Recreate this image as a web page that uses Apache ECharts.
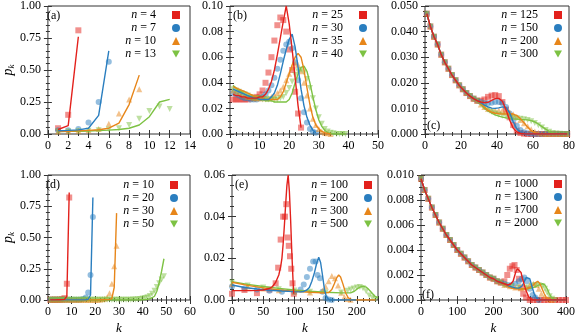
<!DOCTYPE html>
<html>
<head>
<meta charset="utf-8">
<script src="https://cdn.jsdelivr.net/npm/echarts@6/dist/echarts.min.js"></script>
<style>
  html, body { margin: 0; padding: 0; background: #fff; }
  #main { width: 578px; height: 336px; }
</style>
</head>
<body>
<div id="main"></div>
<script>
// ---- data ----
// (a)  k = 1, 2, ...
const aN = [4, 7, 10, 13];
const aL4 = [0.035, 0.065, 0.76];
const aS4 = [0.045, 0.15, 0.81];
const aL7 = [0.025, 0.028, 0.032, 0.045, 0.145, 0.65];
const aS7 = [0.03, 0.03, 0.04, 0.09, 0.25, 0.565];
const aL10 = [0.02, 0.022, 0.025, 0.028, 0.033, 0.045, 0.085, 0.23, 0.46];
const aS10 = [0.02, 0.022, 0.025, 0.03, 0.04, 0.08, 0.16, 0.27, 0.35];
const aL13 = [0.02, 0.021, 0.022, 0.024, 0.027, 0.03, 0.035, 0.045, 0.07, 0.135, 0.25, 0.27];
const aS13 = [0.02, 0.02, 0.022, 0.025, 0.03, 0.035, 0.045, 0.07, 0.12, 0.18, 0.215, 0.195];

// (b)  k = 1, 2, ...
const bN = [25, 30, 35, 40];
const bL25 = [0.031, 0.030, 0.030, 0.029, 0.029, 0.028, 0.028, 0.028, 0.028, 0.029, 0.029, 0.031, 0.035, 0.041, 0.050, 0.062, 0.075, 0.088, 0.100, 0.086, 0.066, 0.044, 0.022, 0.005];
const bS25 = [0.027, 0.027, 0.027, 0.027, 0.027, 0.027, 0.028, 0.028, 0.029, 0.031, 0.034, 0.040, 0.048, 0.060, 0.073, 0.085, 0.091, 0.089, 0.080, 0.066, 0.050, 0.033, 0.016, 0.005];
const bL30 = [0.035, 0.034, 0.033, 0.032, 0.031, 0.030, 0.029, 0.028, 0.028, 0.027, 0.027, 0.027, 0.027, 0.029, 0.032, 0.038, 0.047, 0.057, 0.066, 0.074, 0.078, 0.068, 0.052, 0.035, 0.022, 0.013, 0.007, 0.003, 0.001];
const bS30 = [0.032, 0.031, 0.030, 0.029, 0.028, 0.028, 0.027, 0.027, 0.027, 0.028, 0.029, 0.031, 0.034, 0.038, 0.044, 0.051, 0.058, 0.065, 0.070, 0.072, 0.067, 0.056, 0.042, 0.028, 0.017, 0.009, 0.004, 0.002, 0.001];
const bL35 = [0.037, 0.036, 0.035, 0.034, 0.033, 0.032, 0.031, 0.030, 0.029, 0.028, 0.028, 0.027, 0.027, 0.027, 0.027, 0.027, 0.029, 0.033, 0.040, 0.047, 0.054, 0.060, 0.063, 0.060, 0.050, 0.036, 0.023, 0.013, 0.007, 0.004, 0.002, 0.001, 0.0005, 0];
const bS35 = [0.034, 0.033, 0.032, 0.031, 0.030, 0.029, 0.029, 0.028, 0.028, 0.028, 0.028, 0.028, 0.028, 0.029, 0.030, 0.032, 0.034, 0.037, 0.042, 0.047, 0.052, 0.055, 0.054, 0.049, 0.040, 0.030, 0.020, 0.012, 0.007, 0.004, 0.002, 0.001, 0.0005, 0];
const bL40 = [0.038, 0.036, 0.034, 0.033, 0.031, 0.030, 0.029, 0.028, 0.028, 0.027, 0.027, 0.026, 0.026, 0.026, 0.025, 0.025, 0.025, 0.025, 0.025, 0.027, 0.032, 0.040, 0.047, 0.052, 0.053, 0.049, 0.040, 0.029, 0.019, 0.011, 0.006, 0.003, 0.001, 0.0005, 0, 0, 0, 0, 0];
const bS40 = [0.035, 0.034, 0.033, 0.032, 0.031, 0.030, 0.029, 0.028, 0.028, 0.028, 0.027, 0.027, 0.027, 0.027, 0.027, 0.027, 0.028, 0.029, 0.032, 0.036, 0.041, 0.046, 0.049, 0.050, 0.048, 0.043, 0.036, 0.028, 0.020, 0.013, 0.008, 0.004, 0.002, 0.001, 0.0005, 0, 0, 0, 0];

// (c)  k = 1, 3, 5, ... (shared decay up to k = 29, then each n)
const cN = [125, 150, 200, 300];
const cBase = [0.047, 0.042, 0.038, 0.035, 0.031, 0.028, 0.0255, 0.023, 0.021, 0.019, 0.0175, 0.016, 0.0148, 0.0138, 0.013];
const cL125 = [0.0125, 0.0122, 0.0124, 0.0131, 0.0138, 0.0139, 0.0128, 0.0095, 0.0055, 0.0023, 0.0008, 0.0003, 0.0001, 0, 0, 0, 0, 0, 0, 0, 0, 0, 0, 0, 0];
const cS125 = [0.013, 0.0135, 0.0145, 0.015, 0.0152, 0.0148, 0.0125, 0.0095, 0.0065, 0.0035, 0.0012, 0.0004, 0.0001, 0, 0, 0, 0, 0, 0, 0, 0, 0, 0, 0, 0];
const cL150 = [0.0122, 0.0113, 0.0106, 0.0101, 0.0100, 0.0102, 0.0106, 0.0104, 0.0083, 0.0048, 0.0020, 0.0007, 0.0002, 0, 0, 0, 0, 0, 0, 0, 0, 0, 0, 0, 0];
const cS150 = [0.0125, 0.012, 0.012, 0.0122, 0.0125, 0.0125, 0.012, 0.0105, 0.008, 0.0055, 0.0032, 0.0016, 0.0007, 0.0003, 0.0001, 0, 0, 0, 0, 0, 0, 0, 0, 0, 0];
const cL200 = [0.0118, 0.0105, 0.0092, 0.0085, 0.0081, 0.0079, 0.0078, 0.0078, 0.0079, 0.0078, 0.0072, 0.0060, 0.0044, 0.0027, 0.0013, 0.0005, 0.0002, 0, 0, 0, 0, 0, 0, 0, 0];
const cS200 = [0.0115, 0.0105, 0.0098, 0.0093, 0.0092, 0.0092, 0.0092, 0.0090, 0.0085, 0.0077, 0.0067, 0.0055, 0.0042, 0.0030, 0.0019, 0.0010, 0.0005, 0.0002, 0, 0, 0, 0, 0, 0, 0];
const cL300 = [0.0115, 0.0100, 0.0090, 0.0082, 0.0075, 0.0070, 0.0066, 0.0063, 0.0061, 0.0059, 0.0058, 0.0057, 0.0056, 0.0055, 0.0052, 0.0047, 0.0039, 0.0029, 0.0019, 0.0010, 0.0004, 0.0001, 0, 0, 0];
const cS300 = [0.0118, 0.0105, 0.0095, 0.0087, 0.0080, 0.0075, 0.0071, 0.0068, 0.0066, 0.0064, 0.0062, 0.0060, 0.0058, 0.0055, 0.0050, 0.0043, 0.0034, 0.0025, 0.0016, 0.0009, 0.0004, 0.0002, 0.0001, 0, 0];

// (d)  k = 1, 2, ...
const dN = [10, 20, 30, 50];
const dL10 = [0.001, 0.001, 0.001, 0.002, 0.002, 0.003, 0.005, 0.03, 0.86];
const dS10 = [0.003, 0.003, 0.003, 0.003, 0.004, 0.006, 0.015, 0.13, 0.82];
const dL20 = [0.001, 0.001, 0.001, 0.001, 0.001, 0.001, 0.001, 0.001, 0.001, 0.001, 0.001, 0.001, 0.001, 0.001, 0.001, 0.002, 0.006, 0.04, 0.82];
const dS20 = [0.003, 0.003, 0.003, 0.003, 0.003, 0.003, 0.003, 0.003, 0.003, 0.003, 0.003, 0.003, 0.003, 0.004, 0.008, 0.02, 0.06, 0.20, 0.665];
const dL30 = [0.001, 0.001, 0.001, 0.001, 0.001, 0.001, 0.001, 0.001, 0.001, 0.001, 0.001, 0.001, 0.001, 0.001, 0.001, 0.001, 0.001, 0.001, 0.001, 0.001, 0.001, 0.002, 0.002, 0.003, 0.003, 0.005, 0.012, 0.1, 0.695];
const dS30 = [0.003, 0.003, 0.003, 0.003, 0.003, 0.003, 0.003, 0.003, 0.003, 0.003, 0.003, 0.003, 0.003, 0.003, 0.003, 0.003, 0.003, 0.003, 0.003, 0.003, 0.003, 0.004, 0.006, 0.01, 0.02, 0.055, 0.13, 0.27, 0.435];
const dL50 = [0.001, 0.001, 0.001, 0.001, 0.001, 0.001, 0.001, 0.001, 0.001, 0.001, 0.001, 0.001, 0.001, 0.001, 0.001, 0.001, 0.001, 0.001, 0.001, 0.001, 0.001, 0.001, 0.001, 0.001, 0.001, 0.001, 0.001, 0.001, 0.001, 0.001, 0.001, 0.001, 0.001, 0.001, 0.001, 0.001, 0.001, 0.001, 0.002, 0.003, 0.004, 0.006, 0.01, 0.018, 0.03, 0.07, 0.14, 0.23, 0.33];
const dS50 = [0.002, 0.002, 0.002, 0.002, 0.002, 0.002, 0.002, 0.002, 0.002, 0.002, 0.002, 0.002, 0.002, 0.002, 0.002, 0.002, 0.002, 0.002, 0.002, 0.002, 0.002, 0.002, 0.002, 0.002, 0.002, 0.002, 0.002, 0.002, 0.002, 0.002, 0.002, 0.002, 0.002, 0.002, 0.002, 0.004, 0.005, 0.007, 0.009, 0.012, 0.016, 0.022, 0.032, 0.05, 0.075, 0.105, 0.135, 0.165, 0.19];

// (e)  [k, p]
const eN = [100, 200, 300, 500];
const eL100 = [[0, 0.0045], [10, 0.0045], [20, 0.0045], [30, 0.0045], [40, 0.0046], [50, 0.0048], [60, 0.0055], [65, 0.0065], [70, 0.0085], [75, 0.012], [78, 0.016], [80, 0.020], [82, 0.027], [84, 0.036], [86, 0.046], [88, 0.055], [90, 0.060], [92, 0.052], [94, 0.038], [96, 0.022], [98, 0.008], [99, 0.003]];
const eS100 = [[0, 0.003], [20, 0.0048], [40, 0.0033], [60, 0.005], [70, 0.008], [74, 0.0155], [78, 0.029], [82, 0.040], [85, 0.040], [87, 0.046], [89, 0.030], [91, 0.026], [93, 0.021], [95, 0.015], [97, 0.008], [99, 0.003]];
const eL200 = [[0, 0.0072], [20, 0.006], [40, 0.0053], [60, 0.0047], [80, 0.0043], [100, 0.004], [110, 0.0039], [115, 0.0041], [120, 0.0048], [124, 0.006], [128, 0.009], [132, 0.013], [136, 0.018], [139, 0.0205], [142, 0.018], [145, 0.012], [148, 0.0055], [151, 0.0018], [155, 0.0003], [160, 0], [199, 0]];
const eS200 = [[0, 0.0065], [20, 0.0055], [40, 0.005], [60, 0.0045], [80, 0.004], [100, 0.0038], [110, 0.005], [115, 0.0075], [120, 0.011], [125, 0.015], [130, 0.0185], [134, 0.0185], [137, 0.012], [141, 0.0105], [145, 0.004], [150, 0.001], [155, 0.0003], [160, 0]];
const eL300 = [[0, 0.0085], [25, 0.007], [50, 0.0058], [75, 0.0048], [100, 0.0042], [125, 0.0037], [145, 0.0034], [155, 0.0036], [160, 0.005], [164, 0.0078], [168, 0.0108], [171, 0.012], [174, 0.011], [178, 0.0075], [182, 0.0035], [186, 0.0012], [190, 0.0003], [195, 0], [230, 0]];
const eS300 = [[0, 0.0078], [25, 0.0065], [50, 0.0055], [75, 0.0047], [100, 0.004], [125, 0.0036], [145, 0.0045], [150, 0.0065], [155, 0.009], [160, 0.0115], [165, 0.0105], [170, 0.007], [175, 0.0035], [180, 0.0015], [185, 0.0005], [190, 0.0001]];
const eL500 = [[0, 0.0088], [25, 0.0075], [50, 0.0065], [75, 0.0056], [100, 0.0048], [125, 0.0042], [150, 0.0037], [175, 0.0034], [190, 0.0034], [196, 0.0042], [200, 0.0052], [205, 0.0062], [210, 0.0066], [215, 0.0062], [220, 0.0048], [225, 0.0031], [230, 0.0016], [234, 0.0009]];
const eS500 = [[0, 0.0085], [25, 0.007], [50, 0.006], [75, 0.0052], [100, 0.0046], [125, 0.004], [150, 0.0036], [175, 0.0036], [185, 0.0045], [190, 0.005], [195, 0.0055], [200, 0.006], [205, 0.0062], [210, 0.0056], [215, 0.0042], [220, 0.0022], [225, 0.0011], [230, 0.0005]];

// (f)  shared decay k = 0, 10, ..., 220, then [k, p] per n
const fN = [1000, 1300, 1700, 2000];
const fBase = [0.0097, 0.0088, 0.0081, 0.0074, 0.0068, 0.0062, 0.0057, 0.0052, 0.0048, 0.0044, 0.0040, 0.0037, 0.0034, 0.0031, 0.0028, 0.0026, 0.0024, 0.0022, 0.0020, 0.0018, 0.0017, 0.0015, 0.0014];
const fL1000 = [[230, 0.0013], [240, 0.0012], [248, 0.0013], [254, 0.0015], [258, 0.0019], [262, 0.0023], [266, 0.0025], [271, 0.0026], [276, 0.0022], [280, 0.0017], [284, 0.0013], [288, 0.0009], [292, 0.0006], [296, 0.0003], [302, 0.0001], [310, 0], [400, 0]];
const fS1000 = [[230, 0.0015], [238, 0.0020], [245, 0.0025], [252, 0.0027], [258, 0.0028], [264, 0.0024], [270, 0.0017], [276, 0.0010], [282, 0.0005], [290, 0.0002], [300, 0], [310, 0], [320, 0], [330, 0], [340, 0], [350, 0], [360, 0], [370, 0], [380, 0], [390, 0], [400, 0]];
const fL1300 = [[230, 0.0013], [240, 0.00115], [250, 0.00105], [260, 0.00097], [270, 0.00095], [278, 0.0011], [284, 0.0014], [290, 0.0018], [295, 0.0019], [300, 0.0017], [306, 0.0011], [312, 0.0005], [318, 0.0002], [325, 0], [400, 0]];
const fS1300 = [[230, 0.0013], [240, 0.0012], [250, 0.0012], [260, 0.0013], [270, 0.0015], [278, 0.0017], [285, 0.0018], [292, 0.0015], [300, 0.0009], [308, 0.0004], [315, 0.0002], [325, 0]];
const fL1700 = [[230, 0.0012], [245, 0.001], [260, 0.0009], [275, 0.00088], [290, 0.0009], [300, 0.001], [310, 0.0012], [316, 0.0014], [322, 0.0015], [328, 0.0013], [334, 0.0009], [340, 0.0005], [346, 0.0002], [352, 0.0001], [360, 0], [400, 0]];
const fS1700 = [[230, 0.0012], [245, 0.0011], [260, 0.001], [275, 0.00095], [290, 0.001], [300, 0.0012], [310, 0.0013], [318, 0.0012], [325, 0.0009], [332, 0.0005], [340, 0.0002], [350, 0.0001], [360, 0]];
const fL2000 = [[230, 0.0012], [250, 0.001], [270, 0.00092], [290, 0.0009], [305, 0.00095], [315, 0.00105], [325, 0.0012], [335, 0.0013], [342, 0.0012], [348, 0.0009], [354, 0.0005], [360, 0.0002], [368, 0], [400, 0]];
const fS2000 = [[230, 0.0012], [250, 0.0011], [270, 0.001], [290, 0.001], [305, 0.0011], [315, 0.0012], [325, 0.0012], [335, 0.0011], [342, 0.0009], [348, 0.0006], [355, 0.0003], [362, 0.0001], [370, 0]];

// ---- helpers ----
const seq = (vals, k0, step) => vals.map((v, i) => [k0 + i * step, v]);
const cHead = seq(cBase, 1, 2);
const cTail = v => seq(v, 31, 2);
const fHead = seq(fBase, 0, 10);

const colors = ['#e3211c', '#2a7ebf', '#e7861a', '#7dc243'];
const symbols = ['rect', 'circle', 'triangle', 'path://M0,0L10,0L5,9Z'];
const FONT = 'Liberation Serif';

const panels = [
  { id: 'a', ns: aN,
    lines: [seq(aL4, 1, 1), seq(aL7, 1, 1), seq(aL10, 1, 1), seq(aL13, 1, 1)],
    sims: [seq(aS4, 1, 1), seq(aS7, 1, 1), seq(aS10, 1, 1), seq(aS13, 1, 1)],
    grid: { left: 42, top: 6, width: 148, height: 128 },
    x: { max: 14, interval: 2, minor: 2 }, y: { max: 1, interval: 0.25, dec: 2, minor: 5 },
    legend: { right: 398, top: 9 }, tag: { left: 47, top: 10 }, pk: true },
  { id: 'b', ns: bN,
    lines: [seq(bL25, 1, 1), seq(bL30, 1, 1), seq(bL35, 1, 1), seq(bL40, 1, 1)],
    sims: [seq(bS25, 1, 1), seq(bS30, 1, 1), seq(bS35, 1, 1), seq(bS40, 1, 1)],
    grid: { left: 230, top: 6, width: 148, height: 128 },
    x: { max: 50, interval: 10, minor: 5 }, y: { max: 0.1, interval: 0.02, dec: 2, minor: 4 },
    legend: { right: 211, top: 9 }, tag: { left: 233, top: 10 } },
  { id: 'c', ns: cN,
    lines: [cHead.concat(cTail(cL125)), cHead.concat(cTail(cL150)), cHead.concat(cTail(cL200)), cHead.concat(cTail(cL300))],
    sims: [cHead.concat(cTail(cS125)), cHead.concat(cTail(cS150)), cHead.concat(cTail(cS200)), cHead.concat(cTail(cS300))],
    grid: { left: 425, top: 6, width: 145, height: 128 },
    x: { max: 80, interval: 20, minor: 4 }, y: { max: 0.05, interval: 0.01, dec: 3, minor: 5 },
    legend: { right: 16, top: 9 }, tag: { left: 427, top: 120 } },
  { id: 'd', ns: dN,
    lines: [seq(dL10, 1, 1), seq(dL20, 1, 1), seq(dL30, 1, 1), seq(dL50, 1, 1)],
    sims: [seq(dS10, 1, 1), seq(dS20, 1, 1), seq(dS30, 1, 1), seq(dS50, 1, 1)],
    grid: { left: 42, top: 175, width: 148, height: 129 },
    x: { max: 60, interval: 10, minor: 5 }, y: { max: 1, interval: 0.25, dec: 2, minor: 5 },
    legend: { right: 400, top: 179 }, tag: { left: 46, top: 179 }, pk: true, kx: true },
  { id: 'e', ns: eN,
    lines: [eL100, eL200, eL300, eL500],
    sims: [eS100, eS200, eS300, eS500],
    grid: { left: 232, top: 175, width: 146, height: 129 },
    x: { max: 234, interval: 50, minor: 5 }, y: { max: 0.06, interval: 0.02, dec: 2, minor: 4 },
    legend: { right: 206, top: 179 }, tag: { left: 235, top: 179 }, kx: true },
  { id: 'f', ns: fN,
    lines: [fHead.concat(fL1000), fHead.concat(fL1300), fHead.concat(fL1700), fHead.concat(fL2000)],
    sims: [fHead.concat(fS1000), fHead.concat(fS1300), fHead.concat(fS1700), fHead.concat(fS2000)],
    grid: { left: 421, top: 175, width: 147, height: 129 },
    x: { max: 400, interval: 100, minor: 4 }, y: { max: 0.01, interval: 0.002, dec: 3, minor: 4 },
    legend: { right: 16, top: 178 }, tag: { left: 422, top: 289 }, kx: true }
];

const labelStyle = { fontFamily: FONT, fontSize: 12, color: '#000' };
const tickStyle = { inside: true, length: 4, lineStyle: { color: '#333' } };

const grid = [], xAxis = [], yAxis = [], series = [], legend = [], graphic = [];

panels.forEach((p, gi) => {
  grid.push(Object.assign({ show: true, borderColor: '#333', borderWidth: 1 }, p.grid));
  xAxis.push({
    type: 'value', gridIndex: gi, position: 'bottom', min: 0, max: p.x.max, interval: p.x.interval,
    splitLine: { show: false }, axisLine: { show: false },
    axisTick: tickStyle,
    minorTick: { show: true, splitNumber: p.x.minor, length: 2, lineStyle: { color: '#333' } },
    axisLabel: Object.assign({ margin: 6, showMaxLabel: p.x.max % p.x.interval === 0 }, labelStyle),
    name: p.kx ? 'k' : '', nameLocation: 'middle', nameGap: 22,
    nameTextStyle: { fontFamily: FONT, fontSize: 13, fontStyle: 'italic', color: '#000' }
  });
  yAxis.push({
    type: 'value', gridIndex: gi, position: 'left', min: 0, max: p.y.max, interval: p.y.interval,
    splitLine: { show: false }, axisLine: { show: false },
    axisTick: tickStyle,
    minorTick: { show: true, splitNumber: p.y.minor, length: 2, lineStyle: { color: '#333' } },
    axisLabel: Object.assign({ margin: 7, formatter: v => v.toFixed(p.y.dec) }, labelStyle),
    name: p.pk ? '{p|p}{s|k}' : '', nameLocation: 'middle', nameGap: 28,
    nameTextStyle: {
      rich: {
        p: { fontFamily: FONT, fontSize: 14, fontStyle: 'italic', color: '#000' },
        s: { fontFamily: FONT, fontSize: 9, fontStyle: 'italic', color: '#000', padding: [7, 0, 0, 0] }
      }
    }
  });
});
// mirrored axes (top / right), ticks only
panels.forEach((p, gi) => {
  xAxis.push({
    type: 'value', gridIndex: gi, position: 'top', min: 0, max: p.x.max, interval: p.x.interval,
    splitLine: { show: false }, axisLine: { show: false }, axisLabel: { show: false },
    axisTick: tickStyle,
    minorTick: { show: true, splitNumber: p.x.minor, length: 2, lineStyle: { color: '#333' } }
  });
  yAxis.push({
    type: 'value', gridIndex: gi, position: 'right', min: 0, max: p.y.max, interval: p.y.interval,
    splitLine: { show: false }, axisLine: { show: false }, axisLabel: { show: false },
    axisTick: tickStyle,
    minorTick: { show: true, splitNumber: p.y.minor, length: 2, lineStyle: { color: '#333' } }
  });
});

panels.forEach((p, gi) => {
  const legendData = [];
  p.ns.forEach((n, i) => {
    const name = p.id + ':' + n;
    legendData.push({ name: name, itemStyle: { opacity: 1 } });
    series.push({
      name: name, type: 'scatter', xAxisIndex: gi, yAxisIndex: gi,
      symbol: symbols[i], symbolSize: 6, data: p.sims[i],
      itemStyle: { color: colors[i], opacity: 0.5 }, silent: true, z: 2
    });
  });
  for (let i = p.ns.length - 1; i >= 0; i--) {
    series.push({
      name: p.id + 'L:' + p.ns[i], type: 'line', xAxisIndex: gi, yAxisIndex: gi,
      data: p.lines[i], showSymbol: false, symbol: 'none',
      lineStyle: { color: colors[i], width: 1.4 }, itemStyle: { color: colors[i] },
      silent: true, z: 3
    });
  }
  legend.push({
    data: legendData, orient: 'vertical', align: 'right', selectedMode: false,
    right: p.legend.right, top: p.legend.top, itemWidth: 8, itemHeight: 8, itemGap: 1,
    padding: 0,
    formatter: name => '{i|n} = ' + name.split(':')[1],
    textStyle: {
      fontFamily: FONT, fontSize: 12, color: '#000', lineHeight: 12, padding: [0, 11, 0, 0],
      rich: { i: { fontFamily: FONT, fontSize: 12, fontStyle: 'italic', color: '#000', lineHeight: 12 } }
    }
  });
  graphic.push({
    type: 'text', left: p.tag.left, top: p.tag.top,
    style: { text: '(' + p.id + ')', font: '12px "Liberation Serif"', fill: '#000' }
  });
});

const chart = echarts.init(document.getElementById('main'), null, { renderer: 'canvas' });
chart.setOption({
  animation: false,
  backgroundColor: '#fff',
  grid: grid, xAxis: xAxis, yAxis: yAxis, series: series, legend: legend, graphic: graphic
});
</script>
</body>
</html>
